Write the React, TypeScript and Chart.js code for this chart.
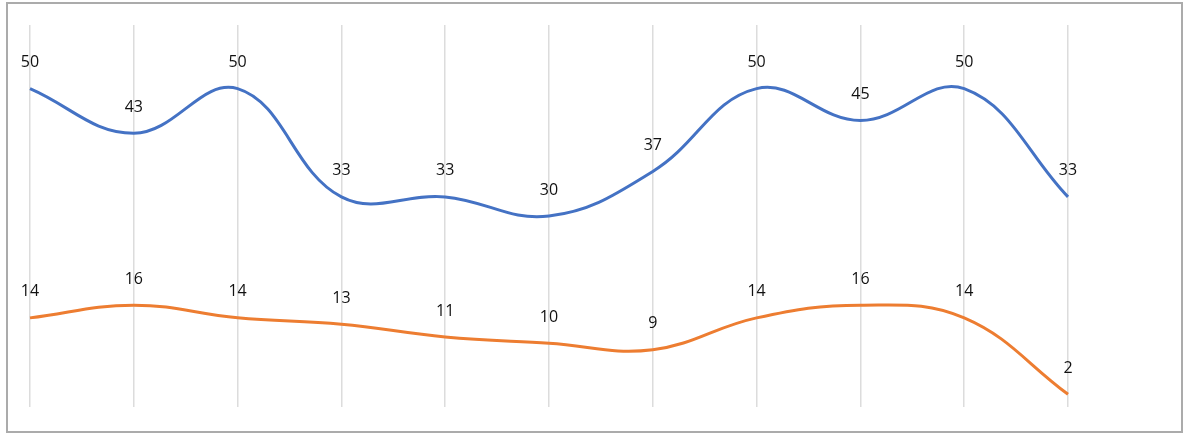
import React, { useEffect, useRef } from "react";
import { Chart, registerables } from "chart.js";

Chart.register(...registerables);

const categories = ["1", "2", "3", "4", "5", "6", "7", "8", "9", "10", "11"];
const seriesA = [50, 43, 50, 33, 33, 30, 37, 50, 45, 50, 33];
const seriesB = [14, 16, 14, 13, 11, 10, 9, 14, 16, 14, 2];
const seriesNames = ["Series 1", "Series 2"];
const seriesColors = ["#4472C4", "#ED7D31"];
const yMin = 0;
const yMax = 60;

const dataLabels = {
  id: "dataLabels",
  afterDatasetsDraw(chart: any) {
    const ctx = chart.ctx;
    ctx.save();
    ctx.font = "16px 'Open Sans', 'Noto Sans', sans-serif";
    ctx.fillStyle = "#111111";
    ctx.textAlign = "center";
    ctx.textBaseline = "middle";
    chart.data.datasets.forEach((ds: any, i: number) => {
      const meta = chart.getDatasetMeta(i);
      meta.data.forEach((pt: any, j: number) => {
        ctx.fillText(String(ds.data[j]), pt.x, pt.y - 26);
      });
    });
    ctx.restore();
  },
};

export default function App() {
  const ref = useRef<HTMLCanvasElement | null>(null);
  useEffect(() => {
    if (!ref.current) return;
    const chart = new Chart(ref.current, {
      type: "line",
      data: {
        labels: categories,
        datasets: [seriesA, seriesB].map((d, i) => ({
          label: seriesNames[i],
          data: d,
          borderColor: seriesColors[i],
          backgroundColor: seriesColors[i],
          borderWidth: 3,
          pointRadius: 0,
          tension: 0.4,
          fill: false,
        })),
      },
      options: {
        animation: false,
        responsive: false,
        maintainAspectRatio: false,
        layout: { padding: { left: 30, right: 123, top: 25, bottom: 26 } },
        plugins: {
          legend: { display: false },
          tooltip: { enabled: false },
          title: { display: false },
        },
        scales: {
          x: {
            display: true,
            offset: false,
            grid: { color: "#dcdcdc", lineWidth: 1.5, drawTicks: false },
            ticks: { display: false },
            border: { display: false },
          },
          y: { display: false, min: yMin, max: yMax },
        },
      },
      plugins: [dataLabels],
    });
    return () => chart.destroy();
  }, []);

  return (
    <>
      <style>{`body{margin:0;background:#fff}`}</style>
      <div style={{ position: "relative", width: 1191, height: 433 }}>
        <canvas ref={ref} width={1191} height={433} style={{ position: "absolute", left: 0, top: 0 }} />
        <div
          style={{
            position: "absolute",
            left: 6,
            top: 2,
            width: 1173,
            height: 427,
            border: "2px solid #ababab",
            pointerEvents: "none",
          }}
        />
      </div>
    </>
  );
}
